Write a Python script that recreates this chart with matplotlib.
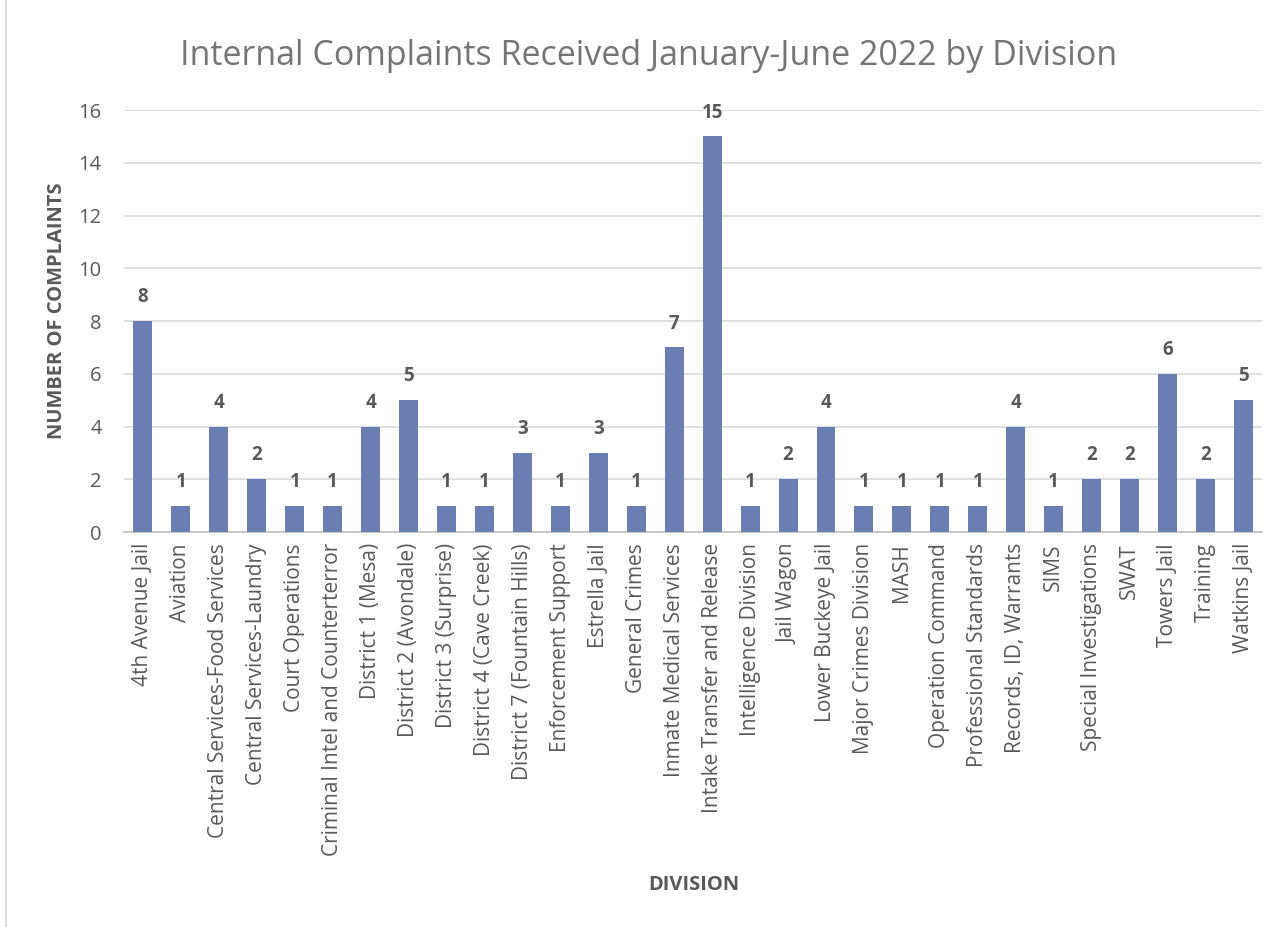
import matplotlib.pyplot as plt
from matplotlib.patches import Rectangle
import numpy as np

divisions = [
    '4th Avenue Jail', 'Aviation', 'Central Services-Food Services',
    'Central Services-Laundry', 'Court Operations',
    'Criminal Intel and Counterterror', 'District 1 (Mesa)',
    'District 2 (Avondale)', 'District 3 (Surprise)', 'District 4 (Cave Creek)',
    'District 7 (Fountain Hills)', 'Enforcement Support', 'Estrella Jail',
    'General Crimes', 'Inmate Medical Services', 'Intake Transfer and Release',
    'Intelligence Division', 'Jail Wagon', 'Lower Buckeye Jail',
    'Major Crimes Division', 'MASH', 'Operation Command',
    'Professional Standards', 'Records, ID, Warrants', 'SIMS',
    'Special Investigations', 'SWAT', 'Towers Jail', 'Training', 'Watkins Jail',
]
complaints = [8, 1, 4, 2, 1, 1, 4, 5, 1, 1, 3, 1, 3, 1, 7, 15, 1, 2, 4, 1,
              1, 1, 1, 4, 1, 2, 2, 6, 2, 5]
yticks = [0, 2, 4, 6, 8, 10, 12, 14, 16]

plt.rcParams['font.family'] = ['Open Sans', 'DejaVu Sans']
txtcol = '#595959'

fig = plt.figure(figsize=(12.82, 9.27), dpi=100)
ax = fig.add_axes([0.0967, 0.4261, 0.888, 0.4552])

# chart border
fig.patches.append(Rectangle((6/1282, -0.01), 1.0, 1.02, transform=fig.transFigure,
                             fill=False, edgecolor='#d9d9d9', linewidth=1.2))

xpos = np.arange(len(divisions))
ax.bar(xpos, complaints, 0.5, color='#6b7eb1', zorder=3)
for x, v in zip(xpos, complaints):
    ax.annotate(str(v), (x, v), xytext=(0, 10), textcoords='offset points',
                ha='center', va='bottom', fontsize=13.5, fontweight='bold', color=txtcol)

ax.set_xlim(-0.5, len(divisions) - 0.5)
ax.set_ylim(0, 16)
ax.set_yticks(yticks)
ax.set_yticklabels([str(t) for t in yticks], fontsize=14.5, color=txtcol)
ax.set_xticks(xpos)
ax.set_xticklabels(divisions, rotation=90, fontsize=15, color=txtcol)
ax.tick_params(axis='both', length=0)
ax.tick_params(axis='x', pad=8)
ax.tick_params(axis='y', pad=16)

ax.grid(axis='y', color='#d9d9d9', linewidth=1.2, zorder=0)
for s in ['top', 'right', 'left']:
    ax.spines[s].set_visible(False)
ax.spines['bottom'].set_color('#bfbfbf')
ax.spines['bottom'].set_linewidth(1.2)

fig.text(0.506, 0.94, 'Internal Complaints Received January-June 2022 by Division',
         ha='center', va='center', fontsize=24.5, color='#757575')
fig.text(0.0445, 0.665, 'NUMBER OF COMPLAINTS', rotation=90, ha='center', va='center',
         fontsize=14.5, fontweight='bold', color=txtcol)
fig.text(0.541, 0.045, 'DIVISION', ha='center', va='center',
         fontsize=14.5, fontweight='bold', color=txtcol)

plt.savefig('out.png')
